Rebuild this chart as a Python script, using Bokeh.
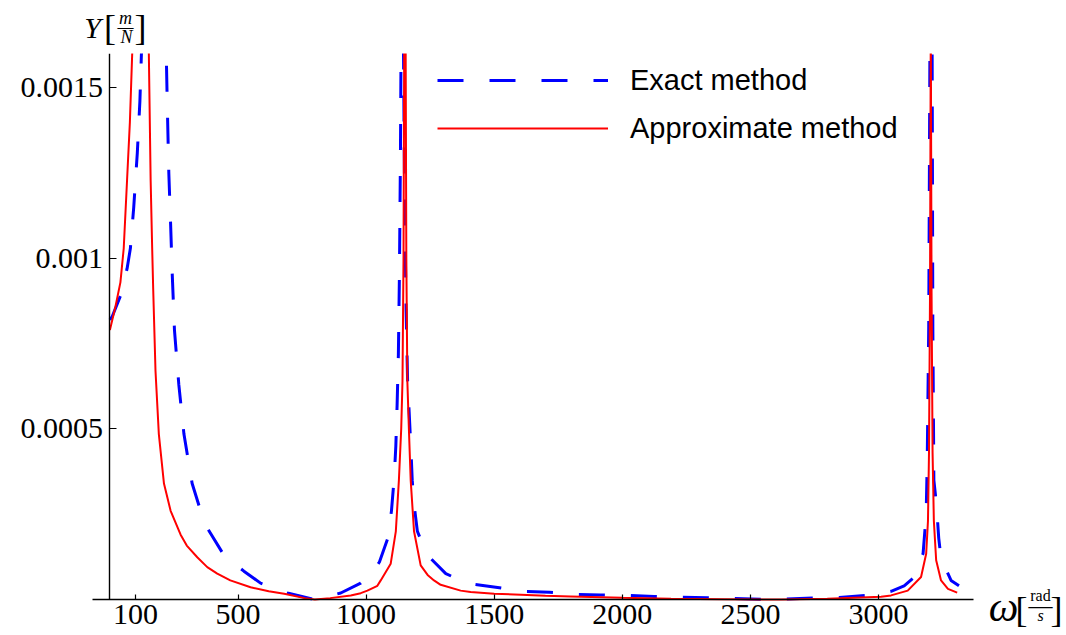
from bokeh.plotting import figure
from bokeh.models import (Range1d, FixedTicker, Label, Legend, LegendItem,
                          BoxAnnotation)
from bokeh.embed import file_html
from bokeh.resources import INLINE

# ---------------- data ----------------
# values above 0.0016 are cut off in the reference; peaks are only known to be
# above the plot range, so they are given as 0.0017
exact_w = [0, 9, 41, 67, 80, 93, 107, 117, 123, 145, 171, 197, 220, 224, 230, 237,
           243, 252, 269, 289, 321, 350, 380, 445, 523, 588, 693, 797, 901, 979, 1020,
           1052, 1085, 1099, 1110, 1116, 1121, 1126, 1130, 1134, 1137, 1141, 1145,
           1150, 1156, 1162, 1168, 1175, 1180, 1187, 1200, 1239, 1311, 1369, 1408,
           1506, 1610, 1716, 1811, 1916, 2026, 2125, 2333, 2580, 2763, 2847, 2958,
           3049, 3100, 3139, 3174, 3186, 3190, 3196, 3201, 3205, 3209, 3212, 3216,
           3226, 3235, 3244, 3283, 3314]
exact_y = [0.00082, 0.00083, 0.00089, 0.00097, 0.00103, 0.00115, 0.00131, 0.00146,
           0.0016, 0.0017, 0.0017, 0.0017, 0.0016, 0.00145, 0.00125, 0.0011,
           0.00096, 0.00079, 0.00063, 0.000485, 0.00034, 0.00027, 0.00021, 0.00013,
           0.000083, 0.000048, 0.000019, 0.0, 0.000019, 0.000048, 0.000075,
           0.00011, 0.00018, 0.00026, 0.00036, 0.00045, 0.00057, 0.00072, 0.00095,
           0.0013, 0.0017, 0.0017, 0.0017,
           0.0012, 0.00085, 0.00064, 0.00055, 0.00044, 0.00035, 0.00028, 0.0002,
           0.00013, 0.000076, 0.000056, 0.000046,
           0.000036, 0.000024, 0.000021, 0.000015, 0.000013, 0.000012, 0.000009,
           0.000005, 0.0, 0.000005, 0.000006, 0.000012,
           0.000024, 0.00004, 0.000065, 0.000135, 0.00025, 0.0004, 0.0008, 0.0017,
           0.0017, 0.0017, 0.0008, 0.00035,
           0.00028, 0.00018, 0.00012, 0.000056, 0.00004]

approx_w = [0, 22, 41, 54, 67, 78, 87, 100, 120, 140, 152, 159, 165, 169, 178, 191,
            211, 237, 276, 300, 341, 380, 419, 470, 549, 620, 680, 760, 800, 860,
            940, 979, 1005, 1044,
            1057, 1096, 1116, 1128, 1137, 1142, 1146, 1149, 1151.5, 1154, 1157, 1161,
            1167, 1174, 1187, 1213, 1240, 1265, 1291, 1369, 1408, 1500, 1604, 1700,
            1799, 2000, 2190, 2400, 2620, 2800, 2905, 3010, 3049, 3114, 3166, 3186,
            3193, 3197, 3201, 3204, 3207, 3211, 3216, 3225, 3244, 3271, 3307]
approx_y = [0.00079, 0.00086, 0.00093, 0.00103, 0.00123, 0.0014, 0.0016, 0.0017,
            0.0017, 0.0017, 0.0016, 0.00123, 0.00103, 0.00091, 0.00067, 0.000485,
            0.00034, 0.00026, 0.00019, 0.000158, 0.000124, 0.000095, 0.000076,
            0.000056, 0.000036, 0.000024, 0.000017, 0.000004, 0.0, 0.000004,
            0.000012, 0.0000185, 0.000026, 0.00004,
            0.000056, 0.000105, 0.0002, 0.00035, 0.0005, 0.00064, 0.001, 0.0017,
            0.0017, 0.0017, 0.001, 0.00064,
            0.0005, 0.00035, 0.0002, 0.0001, 0.000072, 0.000056, 0.000043,
            0.000026, 0.000022, 0.000017, 0.000014, 0.000011,
            0.000009, 0.000005, 0.000002, 0.000001, 0.0, 0.000002, 0.000005,
            0.000008, 0.000012, 0.000026, 0.000066, 0.000134,
            0.00023, 0.00043, 0.0009, 0.0017, 0.0009, 0.00043, 0.00023, 0.000115,
            0.000056, 0.000031, 0.00002]

x_ticks = [100, 500, 1000, 1500, 2000, 2500, 3000]
y_ticks = [0.0005, 0.001, 0.0015]
y_tick_labels = ["0.0005", "0.001", "0.0015"]
series_names = ["Exact method", "Approximate method"]

# plotted window (Mathematica PlotRange) and drawn axis extents
x_axis_extent = (-68, 3371)
y_axis_extent = (0, 0.001601)

# ---------------- figure ----------------
# the frame fills the whole canvas so that axes placed at the origin and the
# axis titles can sit anywhere on the page
p = figure(width=1066, height=635, output_backend="svg", toolbar_location=None,
           x_range=Range1d(-427.0, 3733.7), y_range=Range1d(-0.0001056, 0.0017566),
           min_border_left=0, min_border_right=0, min_border_top=0,
           min_border_bottom=0)
p.outline_line_color = None
p.grid.visible = False
p.background_fill_color = "white"
p.border_fill_color = "white"

SERIF = "Liberation Serif"
SANS = "Liberation Sans"

for ax in (p.xaxis[0], p.yaxis[0]):
    ax.axis_line_color = "black"
    ax.axis_line_width = 1.4
    ax.major_tick_line_color = "black"
    ax.major_tick_line_width = 1.2
    ax.major_tick_out = 0
    ax.minor_tick_line_color = None
    ax.major_label_text_font = SERIF
    ax.major_label_text_font_size = "30px"
    ax.major_label_text_color = "black"

p.xaxis.ticker = FixedTicker(ticks=x_ticks)
p.xaxis.major_tick_in = 5
p.xaxis.major_label_standoff = 6
p.xaxis.fixed_location = 0
p.xaxis.bounds = x_axis_extent

p.yaxis.ticker = FixedTicker(ticks=y_ticks)
p.yaxis.major_label_overrides = {t: s for t, s in zip(y_ticks, y_tick_labels)}
p.yaxis.major_tick_in = 7
p.yaxis.major_label_standoff = 7
p.yaxis.fixed_location = 0
p.yaxis.bounds = y_axis_extent

r_exact = p.line(exact_w, exact_y, line_color="#0000FF", line_width=3,
                 line_dash="26 26")
r_approx = p.line(approx_w, approx_y, line_color="#FF0000", line_width=2)

# curves are cut at the top of the plot range (like Mathematica's PlotRange)
p.add_layout(BoxAnnotation(bottom=y_axis_extent[1], top=1.0, left=-1e5, right=1e5,
                           fill_color="white", fill_alpha=1.0, line_color=None))

legend = Legend(items=[LegendItem(label=series_names[0], renderers=[r_exact]),
                       LegendItem(label=series_names[1], renderers=[r_approx])],
                location=(437, 484), orientation="vertical",
                glyph_width=171, glyph_height=46, label_height=46,
                label_standoff=22, spacing=2, padding=0, margin=0,
                border_line_color=None, background_fill_alpha=0,
                label_text_font=SANS, label_text_font_size="29px",
                label_text_color="black")
p.add_layout(legend)

# ---------------- axis titles (Mathematica style) ----------------
def lab(text, sx, sy, size, style="normal"):
    p.add_layout(Label(x=sx, y=sy, x_units="screen", y_units="screen", text=text,
                       text_font=SERIF, text_font_size=size, text_font_style=style,
                       text_align="center", text_baseline="middle",
                       text_color="black"))

# Y [ m / N ]
lab("Y", 92, 608, "30px", "italic")
lab("[", 109.5, 607.5, "36px")
lab("m", 125, 618, "18px", "italic")
lab("\u2014", 125, 609, "16px")
lab("N", 126, 599, "18px", "italic")
lab("]", 140, 607.5, "36px")

# omega [ rad / s ]
lab("\u03c9", 1003, 29, "42px", "italic")
lab("[", 1021, 26, "36px")
lab("rad", 1040, 40, "16px")
lab("\u2014", 1040, 31, "24px")
lab("s", 1040, 20, "16px", "italic")
lab("]", 1056, 26, "36px")

open("out.html", "w").write(file_html(p, INLINE))
